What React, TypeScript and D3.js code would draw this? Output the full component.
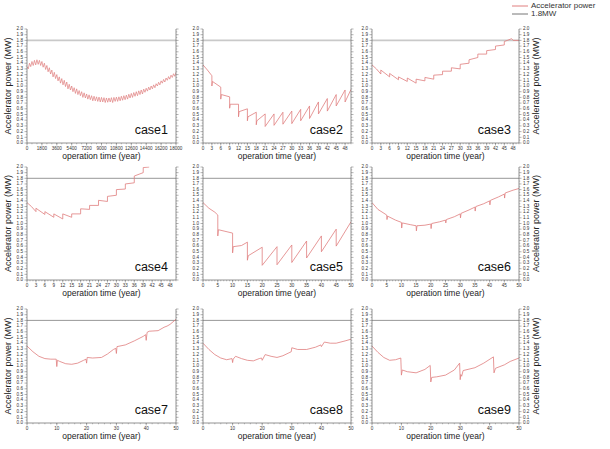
import React from "react";
import * as d3 from "d3";

// ---------- data ----------
const yTicks = [0.0, 0.1, 0.2, 0.3, 0.4, 0.5, 0.6, 0.7, 0.8, 0.9, 1.0, 1.1, 1.2, 1.3, 1.4, 1.5, 1.6, 1.7, 1.8, 1.9, 2.0];
const xTicksDays = [0, 1800, 3600, 5400, 7200, 9000, 10800, 12600, 14400, 16200, 18000];
const xTicks3 = [0, 3, 6, 9, 12, 15, 18, 21, 24, 27, 30, 33, 36, 39, 42, 45, 48];
const xTicks5 = [0, 5, 10, 15, 20, 25, 30, 35, 40, 45, 50];
const xTicks10 = [0, 10, 20, 30, 40, 50];
const limitMW = 1.8;
const caseNames = ["case1", "case2", "case3", "case4", "case5", "case6", "case7", "case8", "case9"];
const legendLabels = ["Accelerator power", "1.8MW"];

// case1: dense sawtooth, peaks every 300 days starting at 0, dips 150 days after each peak
const case1StepDays = 300;
const case1Peaks = [
  1.34, 1.40, 1.43, 1.45, 1.46, 1.45, 1.43, 1.40, 1.36, 1.32, 1.28, 1.24, 1.20, 1.16, 1.13, 1.10,
  1.07, 1.03, 1.00, 0.97, 0.95, 0.92, 0.90, 0.88, 0.86, 0.845, 0.83, 0.82, 0.81, 0.805, 0.80,
  0.795, 0.79, 0.79, 0.795, 0.80, 0.805, 0.81, 0.82, 0.83, 0.84, 0.855, 0.87, 0.885, 0.90, 0.915,
  0.93, 0.945, 0.96, 0.98, 1.00, 1.02, 1.04, 1.065, 1.09, 1.115, 1.14, 1.165, 1.19, 1.215, 1.24,
];
const case1Dips = [
  1.30, 1.34, 1.36, 1.37, 1.38, 1.36, 1.33, 1.29, 1.25, 1.21, 1.16, 1.13, 1.09, 1.05, 1.02, 0.99,
  0.95, 0.93, 0.90, 0.87, 0.85, 0.83, 0.80, 0.79, 0.77, 0.76, 0.74, 0.74, 0.73, 0.72, 0.72,
  0.71, 0.715, 0.72, 0.71, 0.73, 0.73, 0.74, 0.75, 0.76, 0.77, 0.79, 0.80, 0.82, 0.83, 0.85,
  0.86, 0.89, 0.91, 0.93, 0.95, 0.97, 1.00, 1.02, 1.05, 1.07, 1.10, 1.12, 1.15, 1.17,
];

const case2: [number, number][] = [
  [0, 1.37], [1.5, 1.28], [3, 1.18], [3, 1.0], [3.2, 1.08], [6, 0.98], [6, 0.77], [6.2, 0.85],
  [9, 0.81], [9, 0.61], [9.2, 0.68], [12, 0.68], [12, 0.46], [12.2, 0.55], [15, 0.6], [15, 0.39],
  [15.2, 0.46], [18, 0.54], [18, 0.32], [18.2, 0.39], [21, 0.51], [21, 0.29], [24, 0.51], [24, 0.31],
  [27, 0.54], [27, 0.33], [30, 0.56], [30, 0.34], [33, 0.59], [33, 0.39], [36, 0.65], [36, 0.43],
  [39, 0.72], [39, 0.51], [42, 0.78], [42, 0.56], [45, 0.85], [45, 0.65], [48, 0.93], [48, 0.72],
  [50, 0.94],
];
const case3: [number, number][] = [
  [0, 1.37], [1.5, 1.3], [3, 1.21], [3, 1.28], [6, 1.16], [6, 1.22], [9, 1.11], [9, 1.16], [12, 1.08],
  [12, 1.14], [15, 1.05], [15, 1.12], [18, 1.09], [18, 1.15], [21, 1.12], [21, 1.19], [24, 1.2],
  [24, 1.26], [27, 1.26], [27, 1.32], [30, 1.3], [30, 1.38], [33, 1.4], [33, 1.46], [36, 1.5],
  [36, 1.56], [39, 1.56], [39, 1.62], [42, 1.64], [42, 1.7], [45, 1.72], [45, 1.78], [47.5, 1.83],
  [48, 1.8], [50, 1.8],
];
const case4: [number, number][] = [
  [0, 1.37], [1.5, 1.3], [3, 1.21], [3, 1.27], [6, 1.16], [6, 1.21], [9, 1.11], [9, 1.17], [12, 1.08],
  [12, 1.17], [15, 1.11], [15, 1.17], [18, 1.17], [18, 1.26], [21, 1.25], [21, 1.32], [24, 1.32],
  [24, 1.41], [27, 1.39], [27, 1.48], [30, 1.5], [30, 1.6], [33, 1.61], [33, 1.7], [36, 1.72],
  [36, 1.84], [39, 1.9], [39, 1.99], [41, 2.0],
];
const case5: [number, number][] = [
  [0, 1.37], [2, 1.27], [4, 1.2], [5, 1.15], [5, 0.78], [5.2, 0.89], [10, 0.83], [10, 0.48],
  [10.2, 0.59], [13, 0.61], [15, 0.67], [15, 0.35], [15.3, 0.43], [20, 0.58], [20, 0.26], [25, 0.59],
  [25, 0.27], [30, 0.62], [30, 0.31], [35, 0.69], [35, 0.39], [40, 0.78], [40, 0.5], [45, 0.9],
  [45, 0.6], [50, 1.03],
];
const case6: [number, number][] = [
  [0, 1.37], [2, 1.25], [5, 1.15], [5.1, 1.07], [5.3, 1.13], [8, 1.06], [10, 1.02], [10.1, 0.92],
  [10.3, 1.01], [13, 0.98], [15, 0.96], [15.1, 0.87], [15.3, 0.96], [18, 0.97], [20, 0.99],
  [20.1, 0.91], [20.3, 1.0], [23, 1.03], [25, 1.06], [25.1, 1.01], [25.3, 1.07], [28, 1.12],
  [30, 1.17], [30.1, 1.1], [30.3, 1.18], [33, 1.24], [35, 1.29], [35.1, 1.22], [35.3, 1.3],
  [38, 1.35], [40, 1.4], [40.1, 1.33], [40.3, 1.41], [43, 1.47], [45, 1.52], [45.1, 1.45],
  [45.3, 1.54], [48, 1.59], [50, 1.62],
];
const case7: [number, number][] = [
  [0, 1.35], [2, 1.25], [4, 1.17], [6, 1.13], [8, 1.12], [9.8, 1.12], [10, 0.99], [10.2, 1.1],
  [11, 1.08], [13, 1.04], [15, 1.03], [17, 1.05], [19, 1.1], [19.8, 1.12], [20, 1.05], [20.2, 1.15],
  [22, 1.14], [25, 1.15], [27, 1.21], [29, 1.29], [29.8, 1.31], [30, 1.22], [30.2, 1.34], [33, 1.37],
  [36, 1.44], [39, 1.52], [39.8, 1.55], [40, 1.45], [40.3, 1.59], [41, 1.61], [44, 1.62], [46, 1.68],
  [47, 1.7], [48, 1.73], [50, 1.82],
];
const case8: [number, number][] = [
  [0, 1.4], [2, 1.29], [4, 1.2], [6, 1.14], [8, 1.11], [9.8, 1.13], [10, 1.06], [10.2, 1.12],
  [11, 1.17], [13, 1.13], [15, 1.1], [17, 1.09], [19, 1.13], [19.8, 1.14], [20, 1.1], [21, 1.2],
  [23, 1.17], [25, 1.15], [27, 1.18], [29, 1.23], [29.8, 1.25], [30, 1.32], [32, 1.29], [35, 1.29],
  [38, 1.33], [39.8, 1.37], [40, 1.34], [41, 1.42], [43, 1.4], [45, 1.4], [48, 1.44], [50, 1.47],
];
const case9: [number, number][] = [
  [0, 1.35], [2, 1.24], [4, 1.15], [6, 1.1], [8, 1.11], [9.8, 1.14], [10, 0.84], [10.3, 0.93],
  [12, 0.9], [15, 0.88], [18, 0.94], [19.8, 1.01], [20, 0.72], [20.3, 0.8], [22, 0.81], [25, 0.84],
  [28, 0.93], [29.8, 1.05], [30, 0.76], [30.2, 0.85], [30.5, 0.82], [31, 0.92], [35, 0.97],
  [38, 1.05], [41.3, 1.16], [41.5, 0.88], [42, 0.96], [45, 1.02], [47, 1.08], [50, 1.14],
];

// build case1 series from peaks/dips
const case1: [number, number][] = [];
case1Peaks.forEach((p, i) => {
  case1.push([i * case1StepDays, p]);
  if (i < case1Dips.length) case1.push([i * case1StepDays + case1StepDays / 2, case1Dips[i]]);
});

// ---------- layout ----------
const W = 610;
const H = 449;
const colX: [number, number][] = [[27, 176], [203, 351], [372, 519]];
const rowY: [number, number][] = [[29, 143], [167, 280], [309, 423]];
const FONT = "Liberation Sans, Arial, Helvetica, sans-serif";
const LINE_COLOR = "#e07e7e";
const AXIS_COLOR = "#666";
const TEXT_COLOR = "#333";

type PanelSpec = {
  data: [number, number][];
  xMax: number;
  xTicks: number[];
  minorStep: number;
};

const panels: PanelSpec[] = [
  { data: case1, xMax: 18000, xTicks: xTicksDays, minorStep: 600 },
  { data: case2, xMax: 50, xTicks: xTicks3, minorStep: 1 },
  { data: case3, xMax: 50, xTicks: xTicks3, minorStep: 1 },
  { data: case4, xMax: 50, xTicks: xTicks3, minorStep: 1 },
  { data: case5, xMax: 50, xTicks: xTicks5, minorStep: 1 },
  { data: case6, xMax: 50, xTicks: xTicks5, minorStep: 1 },
  { data: case7, xMax: 50, xTicks: xTicks10, minorStep: 2 },
  { data: case8, xMax: 50, xTicks: xTicks10, minorStep: 2 },
  { data: case9, xMax: 50, xTicks: xTicks10, minorStep: 2 },
];

function Panel({ spec, idx }: { spec: PanelSpec; idx: number }) {
  const col = idx % 3;
  const row = Math.floor(idx / 3);
  const [x0, x1] = colX[col];
  const [y0, y1] = rowY[row];
  const x = d3.scaleLinear().domain([0, spec.xMax]).range([x0, x1]);
  const y = d3.scaleLinear().domain([0, 2]).range([y1, y0]);
  const line = d3
    .line<[number, number]>()
    .x((d) => x(d[0]))
    .y((d) => y(d[1]));
  const minor = d3.range(0, spec.xMax + 1e-9, spec.minorStep);
  const yMinor = yTicks.slice(0, -1).map((t) => t + 0.05);
  const clipId = `clip${idx}`;
  const fmtY = d3.format(".1f");
  const thrStyle = row === 0 ? { stroke: "#c9c9c9", width: 1.6 } : { stroke: "#8c8c8c", width: 0.9 };
  return (
    <g>
      <defs>
        <clipPath id={clipId}>
          <rect x={x0} y={y0 - 0.5} width={x1 - x0} height={y1 - y0 + 1} />
        </clipPath>
      </defs>
      {/* threshold line */}
      <line x1={x0} x2={x1} y1={y(limitMW)} y2={y(limitMW)} stroke={thrStyle.stroke} strokeWidth={thrStyle.width} />
      {/* data line */}
      <path
        d={line(spec.data) || ""}
        fill="none"
        stroke={LINE_COLOR}
        strokeWidth={idx === 0 ? 0.7 : 0.8}
        clipPath={`url(#${clipId})`}
      />
      {/* axes */}
      <line x1={x0} x2={x0} y1={y0} y2={y1} stroke={AXIS_COLOR} strokeWidth={0.7} />
      <line x1={x1} x2={x1} y1={y0} y2={y1} stroke={AXIS_COLOR} strokeWidth={0.7} />
      <line x1={x0} x2={x1} y1={y1} y2={y1} stroke={AXIS_COLOR} strokeWidth={0.7} />
      {/* y ticks */}
      {yTicks.map((t) => (
        <g key={`y${t}`}>
          <line x1={x0 - 2.5} x2={x0} y1={y(t)} y2={y(t)} stroke={AXIS_COLOR} strokeWidth={0.5} />
          <line x1={x1} x2={x1 + 2.5} y1={y(t)} y2={y(t)} stroke={AXIS_COLOR} strokeWidth={0.5} />
          <text x={x0 - 4} y={y(t)} fontSize={4.6} textAnchor="end" dominantBaseline="middle" fill={TEXT_COLOR} fontFamily={FONT}>
            {fmtY(t)}
          </text>
          {col === 2 && (
            <text x={x1 + 4} y={y(t)} fontSize={4.6} textAnchor="start" dominantBaseline="middle" fill={TEXT_COLOR} fontFamily={FONT}>
              {fmtY(t)}
            </text>
          )}
        </g>
      ))}
      {yMinor.map((t) => (
        <g key={`ym${t}`}>
          <line x1={x0 - 1.3} x2={x0} y1={y(t)} y2={y(t)} stroke={AXIS_COLOR} strokeWidth={0.4} />
          <line x1={x1} x2={x1 + 1.3} y1={y(t)} y2={y(t)} stroke={AXIS_COLOR} strokeWidth={0.4} />
        </g>
      ))}
      {/* x ticks */}
      {minor.map((t) => (
        <line key={`xm${t}`} x1={x(t)} x2={x(t)} y1={y1} y2={y1 + 1.3} stroke={AXIS_COLOR} strokeWidth={0.4} />
      ))}
      {spec.xTicks.map((t) => (
        <g key={`x${t}`}>
          <line x1={x(t)} x2={x(t)} y1={y1} y2={y1 + 2.5} stroke={AXIS_COLOR} strokeWidth={0.5} />
          <text x={x(t)} y={y1 + 5.5} fontSize={4.6} textAnchor="middle" dominantBaseline="middle" fill={TEXT_COLOR} fontFamily={FONT}>
            {t}
          </text>
        </g>
      ))}
      {/* x title */}
      <text x={(x0 + x1) / 2} y={y1 + 14} fontSize={8.5} textAnchor="middle" dominantBaseline="middle" fill="#222" fontFamily={FONT}>
        operation time (year)
      </text>
      {/* y titles */}
      {col === 0 && (
        <text
          transform={`translate(${9},${(y0 + y1) / 2}) rotate(-90)`}
          fontSize={9}
          textAnchor="middle"
          dominantBaseline="middle"
          fill="#222"
          fontFamily={FONT}
        >
          Accelerator power (MW)
        </text>
      )}
      {col === 2 && (
        <text
          transform={`translate(${537},${(y0 + y1) / 2}) rotate(-90)`}
          fontSize={9}
          textAnchor="middle"
          dominantBaseline="middle"
          fill="#222"
          fontFamily={FONT}
        >
          Accelerator power (MW)
        </text>
      )}
      {/* case label */}
      <text x={x1 - 8} y={y1 - 9} fontSize={12.5} textAnchor="end" fill="#111" fontFamily={FONT}>
        {caseNames[idx]}
      </text>
    </g>
  );
}

export default function App() {
  return (
    <svg
      width={W}
      height={H}
      viewBox={`0 0 ${W} ${H}`}
      style={{ position: "absolute", left: 0, top: 0, background: "#fff", display: "block" }}
    >
      <rect x={0} y={0} width={W} height={H} fill="#fff" />
      {panels.map((p, i) => (
        <Panel key={i} spec={p} idx={i} />
      ))}
      {/* legend */}
      <g fontFamily={FONT}>
        <line x1={512} x2={528} y1={6} y2={6} stroke={LINE_COLOR} strokeWidth={1} />
        <text x={531} y={6} fontSize={8} dominantBaseline="middle" fill={TEXT_COLOR}>
          {legendLabels[0]}
        </text>
        <line x1={512} x2={528} y1={14} y2={14} stroke="#777" strokeWidth={1} />
        <text x={531} y={14} fontSize={8} dominantBaseline="middle" fill={TEXT_COLOR}>
          {legendLabels[1]}
        </text>
      </g>
    </svg>
  );
}
